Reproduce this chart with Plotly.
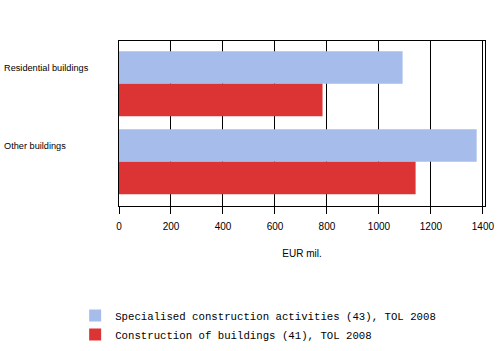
import plotly.graph_objects as go

categories = ["Residential buildings", "Other buildings"]
series_names = ["Specialised construction activities (43), TOL 2008",
                "Construction of buildings (41), TOL 2008"]
specialised = [1091, 1376]
buildings = [783, 1141]
x_ticks = [0, 200, 400, 600, 800, 1000, 1200, 1400]
x_title = "EUR mil."

colors = ["#A6BDEB", "#DC3434"]

fig = go.Figure()
for name, vals, col in zip(series_names, [specialised, buildings], colors):
    fig.add_trace(go.Bar(
        y=categories, x=vals, name=name, orientation="h",
        marker=dict(color=col, line=dict(width=0)),
    ))

for cat in categories:
    fig.add_annotation(
        x=-0.32, xref="paper", y=cat, yref="y", yshift=16,
        text=cat, showarrow=False, xanchor="left", yanchor="middle",
        font=dict(family="Liberation Sans, Arial", size=9.2, color="#000000"),
    )

fig.update_layout(
    width=501, height=351,
    margin=dict(l=119, r=16, t=41, b=145, autoexpand=False),
    paper_bgcolor="white", plot_bgcolor="white",
    barmode="group", bargap=0.167, bargroupgap=0,
    showlegend=True,
    legend=dict(
        xref="container", yref="container",
        x=0.15, y=(351 - 301) / 351, xanchor="left", yanchor="top",
        font=dict(family="Liberation Mono, DejaVu Sans Mono, monospace", size=10.7, color="#000000"),
        traceorder="normal", bgcolor="rgba(0,0,0,0)",
    ),
    xaxis=dict(
        range=[0, 1408], tickvals=x_ticks, ticktext=[str(v) for v in x_ticks],
        showgrid=True, gridcolor="#000000", gridwidth=1,
        ticks="outside", ticklen=7, tickcolor="#000000", tickwidth=1,
        ticklabelstandoff=4,
        showline=True, linecolor="#000000", linewidth=1, mirror=True,
        zeroline=False,
        tickfont=dict(family="Liberation Sans, Arial", size=10, color="#000000"),
        title=dict(text=x_title, standoff=18,
                   font=dict(family="Liberation Sans, Arial", size=10, color="#000000")),
    ),
    yaxis=dict(
        type="category", range=[1.568, -0.547],
        showticklabels=False, ticks="", showgrid=False,
        showline=True, linecolor="#000000", linewidth=1, mirror=True,
        zeroline=False,
    ),
)

fig.write_html("out.html")
